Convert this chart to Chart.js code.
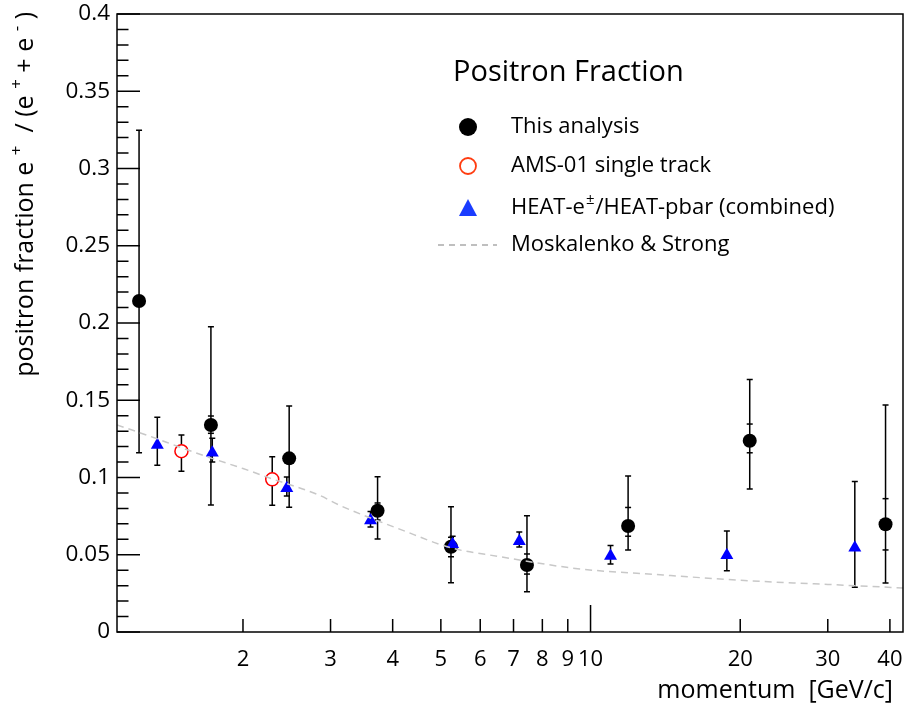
<!DOCTYPE html>
<html>
<head>
<meta charset="utf-8">
<script src="https://cdn.jsdelivr.net/npm/chart.js@4.4.0/dist/chart.umd.min.js"></script>
<style>
  html, body { margin: 0; padding: 0; background: #fff; }
  #wrap { width: 911px; height: 707px; }
</style>
</head>
<body>
<div id="wrap"><canvas id="c" width="911" height="707"></canvas></div>
<script>
// momentum [GeV/c] and positron fraction
var thisMom  = [1.236, 1.724, 2.477, 3.73, 5.24, 7.45, 11.9, 20.9, 39.2];
var thisFrac = [0.2142, 0.134, 0.1124, 0.0785, 0.0552, 0.0434, 0.0686, 0.1238, 0.0697];
var thisHi   = [0.3247, 0.1976, 0.1463, 0.1005, 0.0811, 0.0753, 0.101, 0.1634, 0.147];
var thisLo   = [0.116, 0.0822, 0.0807, 0.0602, 0.0319, 0.0261, 0.053, 0.0925, 0.0317];
var statHi   = [0.2142, 0.1398, 0.1124, 0.0835, 0.0613, 0.0505, 0.0806, 0.1346, 0.0863];
var statLo   = [0.2142, 0.1286, 0.1124, 0.0725, 0.0487, 0.0375, 0.062, 0.116, 0.0531];

var amsMom  = [1.504, 2.29];
var amsFrac = [0.117, 0.0988];
var amsHi   = [0.1275, 0.1135];
var amsLo   = [0.104, 0.082];

var heatMom  = [1.345, 1.735, 2.45, 3.61, 5.28, 7.19, 10.97, 18.8, 34.0];
var heatFrac = [0.121, 0.116, 0.093, 0.0722, 0.0568, 0.0588, 0.0492, 0.0497, 0.0545];
var heatHi   = [0.139, 0.1254, 0.1003, 0.078, 0.062, 0.0647, 0.056, 0.0654, 0.0974];
var heatLo   = [0.108, 0.110, 0.088, 0.068, 0.053, 0.055, 0.044, 0.0396, 0.029];

var theoryMom  = [1.116, 1.3, 1.5, 1.71, 2.0, 2.29, 2.84, 3.12, 3.73, 4.1, 5.25, 6.5, 9.42, 14, 20.4, 30, 42.5];
var theoryFrac = [0.134, 0.1267, 0.1194, 0.113, 0.1058, 0.0991, 0.0887, 0.0822, 0.072, 0.067, 0.0544, 0.049, 0.041, 0.0369, 0.0333, 0.0308, 0.0285];

var xTicks = [2, 3, 4, 5, 6, 7, 8, 9, 10, 20, 30, 40];
var xLabels = ['2', '3', '4', '5', '6', '7', '8', '9', '10', '20', '30', '40'];

var FONT = '"Open Sans", "DejaVu Sans", sans-serif';

function pts(xs, ys) {
    return xs.map(function (x, i) { return { x: x, y: ys[i] }; });
}

// error bars, inside ticks, frame, legend and titles (ROOT style)
var rootStyle = {
    id: 'rootStyle',
    beforeDatasetsDraw: function (chart) {
        var ctx = chart.ctx, xs = chart.scales.x, ys = chart.scales.y;
        ctx.save();
        ctx.strokeStyle = '#000';
        ctx.lineWidth = 1.5;
        function bar(xv, lo, hi, cap) {
            var px = xs.getPixelForValue(xv);
            var a = ys.getPixelForValue(lo), b = ys.getPixelForValue(hi);
            ctx.beginPath();
            ctx.moveTo(px, a); ctx.lineTo(px, b);
            ctx.moveTo(px - cap, a); ctx.lineTo(px + cap, a);
            ctx.moveTo(px - cap, b); ctx.lineTo(px + cap, b);
            ctx.stroke();
        }
        function tick(xv, v) {
            var px = xs.getPixelForValue(xv), py = ys.getPixelForValue(v);
            ctx.beginPath();
            ctx.moveTo(px - 3, py); ctx.lineTo(px + 3, py);
            ctx.stroke();
        }
        heatMom.forEach(function (m, i) { bar(m, heatLo[i], heatHi[i], 3); });
        amsMom.forEach(function (m, i) { bar(m, amsLo[i], amsHi[i], 3); });
        thisMom.forEach(function (m, i) {
            bar(m, thisLo[i], thisHi[i], 3);
            tick(m, statLo[i]); tick(m, statHi[i]);
        });
        ctx.restore();
    },
    afterDraw: function (chart) {
        var ctx = chart.ctx, a = chart.chartArea;
        var xs = chart.scales.x, ys = chart.scales.y;
        ctx.save();
        ctx.strokeStyle = '#000';
        ctx.lineWidth = 1.5;
        ctx.strokeRect(a.left, a.top, a.right - a.left, a.bottom - a.top);

        // y ticks pointing inward: major every 0.05, minor every 0.01
        ctx.beginPath();
        for (var k = 0; k <= 40; k++) {
            var py = ys.getPixelForValue(k / 100);
            var len = (k % 5 === 0) ? 23 : 11.5;
            ctx.moveTo(a.left, py); ctx.lineTo(a.left + len, py);
        }
        // x ticks pointing inward
        xTicks.forEach(function (v) {
            var px = xs.getPixelForValue(v);
            var len = (v === 10) ? 27 : 13;
            ctx.moveTo(px, a.bottom); ctx.lineTo(px, a.bottom - len);
        });
        ctx.stroke();

        ctx.fillStyle = '#000';
        ctx.textBaseline = 'middle';

        // x title
        ctx.font = '25px ' + FONT;
        ctx.textAlign = 'right';
        ctx.fillText('momentum  [GeV/c]', 893, 691);

        // y title with superscripts, rotated, ending at top
        var parts = [
            ['positron fraction e ', 0], ['+', 1], ['  / (e ', 0], ['+', 1],
            [' + e ', 0], ['-', 1], [' )', 0]
        ];
        var big = '25px ' + FONT, small = '17px ' + FONT;
        var total = 0;
        parts.forEach(function (p) { ctx.font = p[1] ? small : big; total += ctx.measureText(p[0]).width; });
        ctx.translate(33, 12 + total);
        ctx.rotate(-Math.PI / 2);
        ctx.textAlign = 'left';
        ctx.textBaseline = 'alphabetic';
        var cx = 0;
        parts.forEach(function (p) {
            ctx.font = p[1] ? small : big;
            ctx.fillText(p[0], cx, p[1] ? -11 : 0);
            cx += ctx.measureText(p[0]).width;
        });
        ctx.setTransform(1, 0, 0, 1, 0, 0);

        // legend
        ctx.textAlign = 'left';
        ctx.textBaseline = 'middle';
        ctx.font = '29px ' + FONT;
        ctx.fillText('Positron Fraction', 453, 73);
        ctx.font = '22px ' + FONT;
        var mx = 468, tx = 511;
        ctx.fillText('This analysis', tx, 127);
        ctx.fillText('AMS-01 single track', tx, 166);
        ctx.fillText('HEAT-e', tx, 208);
        var w1 = ctx.measureText('HEAT-e').width;
        ctx.font = '15px ' + FONT;
        ctx.fillText('\u00B1', tx + w1 + 1, 200);
        var w2 = ctx.measureText('\u00B1').width;
        ctx.font = '22px ' + FONT;
        ctx.fillText('/HEAT-pbar (combined)', tx + w1 + w2 + 2, 208);
        ctx.fillText('Moskalenko & Strong', tx, 245);

        ctx.beginPath(); ctx.arc(mx, 127, 9, 0, Math.PI * 2); ctx.fillStyle = '#000'; ctx.fill();
        ctx.beginPath(); ctx.arc(mx, 166, 8, 0, Math.PI * 2);
        ctx.lineWidth = 1.8; ctx.strokeStyle = '#ff3c10'; ctx.stroke();
        ctx.beginPath();
        ctx.moveTo(mx, 199); ctx.lineTo(mx + 9, 216); ctx.lineTo(mx - 9, 216); ctx.closePath();
        ctx.fillStyle = '#1a3cff'; ctx.fill();
        ctx.beginPath(); ctx.setLineDash([6, 5]);
        ctx.moveTo(438, 245); ctx.lineTo(497, 245);
        ctx.strokeStyle = '#aaaaaa'; ctx.lineWidth = 1.3; ctx.stroke();
        ctx.restore();
    }
};

new Chart(document.getElementById('c'), {
    type: 'scatter',
    data: {
        datasets: [
            {
                type: 'line',
                label: 'Moskalenko & Strong',
                data: pts(theoryMom, theoryFrac),
                borderColor: '#c8c8c8',
                borderWidth: 1.5,
                borderDash: [7, 5],
                pointRadius: 0,
                fill: false,
                cubicInterpolationMode: 'monotone'
            },
            {
                label: 'HEAT-e\u00B1/HEAT-pbar (combined)',
                data: pts(heatMom, heatFrac),
                pointStyle: 'triangle',
                pointRadius: 7.5,
                backgroundColor: '#0000ff',
                borderColor: '#0000ff',
                borderWidth: 0
            },
            {
                label: 'AMS-01 single track',
                data: pts(amsMom, amsFrac),
                pointStyle: 'circle',
                pointRadius: 6.5,
                backgroundColor: '#ffffff',
                borderColor: '#ff0000',
                borderWidth: 1.5
            },
            {
                label: 'This analysis',
                data: pts(thisMom, thisFrac),
                pointStyle: 'circle',
                pointRadius: 7,
                backgroundColor: '#000000',
                borderColor: '#000000',
                borderWidth: 0
            }
        ]
    },
    options: {
        responsive: false,
        animation: false,
        layout: { padding: { top: 14, right: 4, left: 0, bottom: 0 } },
        plugins: {
            legend: { display: false },
            tooltip: { enabled: false }
        },
        scales: {
            x: {
                type: 'logarithmic',
                min: 1.116,
                max: 42.5,
                grid: { display: false, drawTicks: false },
                border: { display: false },
                afterBuildTicks: function (scale) {
                    scale.ticks = xTicks.map(function (v) { return { value: v }; });
                },
                afterFit: function (scale) {
                    scale.height = 75;
                    scale.paddingLeft = 0; scale.paddingRight = 0;
                },
                ticks: {
                    autoSkip: false,
                    maxRotation: 0,
                    padding: 15,
                    color: '#000',
                    font: { family: FONT, size: 22 },
                    callback: function (v) {
                        var i = xTicks.indexOf(v);
                        return i >= 0 ? xLabels[i] : '';
                    }
                }
            },
            y: {
                min: 0,
                max: 0.4,
                grid: { display: false, drawTicks: false },
                border: { display: false },
                afterFit: function (scale) {
                    scale.width = 117;
                    scale.paddingTop = 0; scale.paddingBottom = 0;
                },
                ticks: {
                    stepSize: 0.05,
                    padding: 7,
                    color: '#000',
                    font: { family: FONT, size: 22.5 },
                    callback: function (v) { return String(+v.toFixed(2)); }
                }
            }
        }
    },
    plugins: [rootStyle]
});
</script>
</body>
</html>
